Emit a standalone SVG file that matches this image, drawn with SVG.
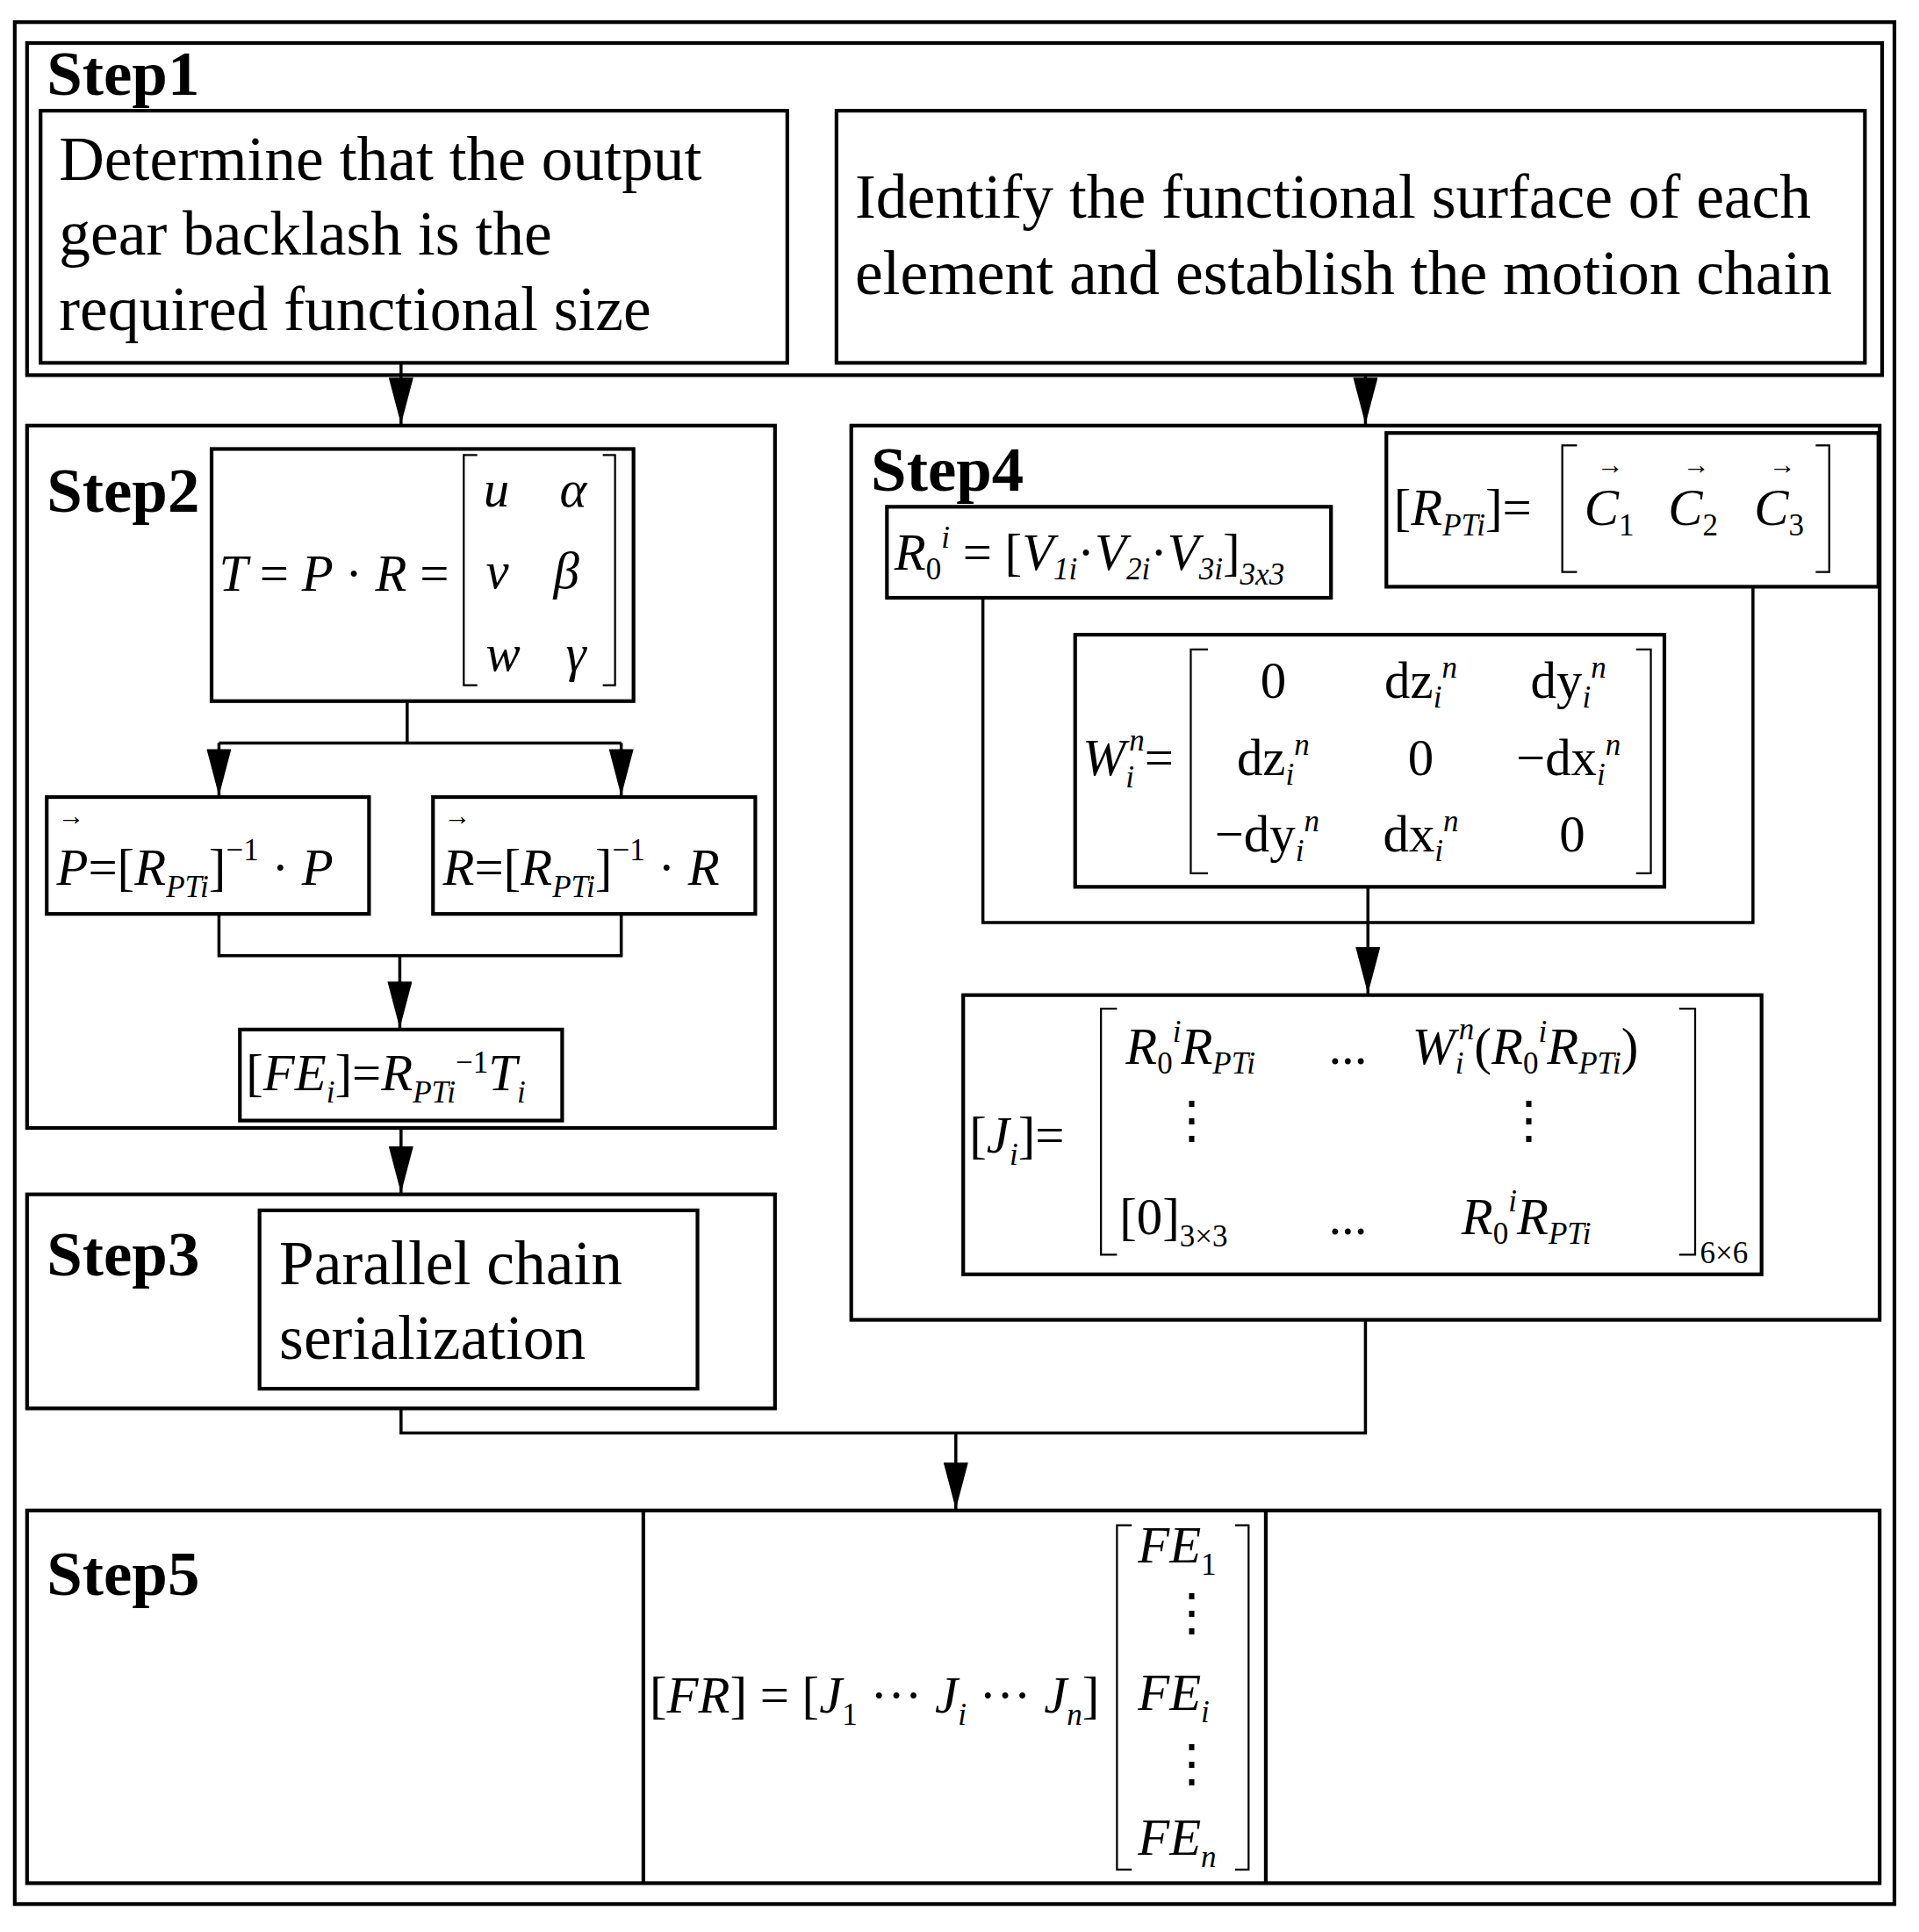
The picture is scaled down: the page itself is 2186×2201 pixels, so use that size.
<svg xmlns="http://www.w3.org/2000/svg" width="2186" height="2201" viewBox="0 0 2186 2201">
<style>
.b{fill:none;stroke:#000;stroke-width:3}
.l{fill:none;stroke:#000;stroke-width:2.5}
.k{fill:none;stroke:#000;stroke-width:1.6}
text{font-family:"Liberation Serif","Times New Roman",serif;fill:#000}
.t{font-size:51px}
.s{font-size:52px;font-weight:bold}
.m{font-size:42px;font-style:italic}
.r{font-size:42px}
.sub{font-size:25px}
</style>
<defs><marker id="a" viewBox="0 0 10 10" refX="10" refY="5" markerWidth="38" markerHeight="20" markerUnits="userSpaceOnUse" orient="auto" preserveAspectRatio="none"><path d="M0,0L10,5L0,10z" fill="#000"/></marker></defs>
<rect width="2186" height="2201" fill="#fff"/>
<g transform="scale(1.4013)">
<rect class="b" x="12" y="18" width="1528" height="1530"/>
<g id="step1"><rect class="b" x="22" y="35" width="1508" height="270"/><text class="s" x="38" y="77">Step1</text></g>
<g id="n1"><rect class="b" x="33" y="90" width="607" height="205"/><text class="t" x="48" y="146">Determine that the output</text><text class="t" x="48" y="207">gear backlash is the</text><text class="t" x="48" y="268">required functional size</text></g>
<g id="n2"><rect class="b" x="680" y="90" width="836" height="205"/><text class="t" x="695" y="177">Identify the functional surface of each</text><text class="t" x="695" y="239">element and establish the motion chain</text></g>
<g id="step2"><rect class="b" x="22" y="346" width="608" height="571"/><text class="s" x="38" y="416">Step2</text></g>
<g id="n3"><rect class="b" x="172" y="365" width="343" height="205"/>
<text class="m" x="178" y="480">T <tspan font-style="normal">=</tspan> P <tspan font-style="normal">·</tspan> R <tspan font-style="normal">=</tspan></text>
<path class="k" d="M388,370H377V557H388M490,370H500V557H490"/>
<text class="m" x="393" y="412">u</text><text class="m" x="455" y="412">α</text><text class="m" x="395" y="478">v</text><text class="m" x="450" y="478">β</text><text class="m" x="395" y="545">w</text><text class="m" x="460" y="545">γ</text></g>
<g id="n4"><rect class="b" x="38" y="648" width="262" height="95"/>
<text x="47" y="671" font-size="22">→</text>
<text class="m" x="46" y="719">P<tspan font-style="normal">=[</tspan>R<tspan class="sub" dy="10">PTi</tspan><tspan font-style="normal" dy="-10">]</tspan><tspan font-style="normal" class="sub" dy="-20">−1</tspan><tspan font-style="normal" dy="20"> · </tspan>P</text></g>
<g id="n5"><rect class="b" x="352" y="648" width="262" height="95"/>
<text x="361" y="671" font-size="22">→</text>
<text class="m" x="360" y="719">R<tspan font-style="normal">=[</tspan>R<tspan class="sub" dy="10">PTi</tspan><tspan font-style="normal" dy="-10">]</tspan><tspan font-style="normal" class="sub" dy="-20">−1</tspan><tspan font-style="normal" dy="20"> · </tspan>R</text></g>
<g id="n6"><rect class="b" x="195" y="837" width="262" height="74"/>
<text class="m" x="200" y="886"><tspan font-style="normal">[</tspan>FE<tspan class="sub" dy="10">i</tspan><tspan font-style="normal" dy="-10">]=</tspan>R<tspan class="sub" dy="10">PTi</tspan><tspan class="sub" font-style="normal" dy="-24">−1</tspan><tspan dy="14">T</tspan><tspan class="sub" dy="10">i</tspan></text></g>
<g id="step3"><rect class="b" x="22" y="971" width="608" height="174"/><text class="s" x="38" y="1037">Step3</text></g>
<g id="n7"><rect class="b" x="211" y="984" width="356" height="145"/><text class="t" x="227" y="1044">Parallel chain</text><text class="t" x="227" y="1105">serialization</text></g>
<g id="step4"><rect class="b" x="692" y="346" width="836" height="727"/><text class="s" x="708" y="399">Step4</text></g>
<g id="n8"><rect class="b" x="721" y="412" width="361" height="74"/>
<text class="m" x="727" y="463" font-size="40">R<tspan class="sub" font-style="normal" dy="8">0</tspan><tspan class="sub" dy="-26">i</tspan><tspan font-style="normal" dy="18"> = [</tspan>V<tspan class="sub" dy="8">1i</tspan><tspan font-style="normal" dy="-8">·</tspan>V<tspan class="sub" dy="8">2i</tspan><tspan font-style="normal" dy="-8">·</tspan>V<tspan class="sub" dy="8">3i</tspan><tspan font-style="normal" dy="-8">]</tspan><tspan class="sub" dy="12">3x3</tspan></text></g>
<g id="n9"><rect class="b" x="1127" y="352" width="400" height="125"/>
<text class="m" x="1133" y="427"><tspan font-style="normal">[</tspan>R<tspan class="sub" dy="8">PTi</tspan><tspan font-style="normal" dy="-8">]=</tspan></text>
<path class="k" d="M1282,362H1270V465H1282M1476,362H1487V465H1476"/>
<text x="1298" y="385" font-size="22">→</text><text x="1368" y="385" font-size="22">→</text><text x="1438" y="385" font-size="22">→</text>
<text class="m" x="1288" y="427">C<tspan class="sub" font-style="normal" dy="8">1</tspan></text><text class="m" x="1356" y="427">C<tspan class="sub" font-style="normal" dy="8">2</tspan></text><text class="m" x="1426" y="427">C<tspan class="sub" font-style="normal" dy="8">3</tspan></text></g>
<g id="n10"><rect class="b" x="874" y="516" width="479" height="205"/>
<text class="m" x="880" y="630">W<tspan class="sub" dy="10">i</tspan><tspan class="sub" dx="-4" dy="-30">n</tspan><tspan font-style="normal" dy="20">=</tspan></text>
<path class="k" d="M982,528H968V710H982M1330,528H1342V710H1330"/>
<g class="r" text-anchor="middle">
<text x="1035" y="567">0</text><text x="1155" y="567">dz<tspan class="sub" font-style="italic" dy="8">i</tspan><tspan class="sub" font-style="italic" dy="-24">n</tspan></text><text x="1275" y="567">dy<tspan class="sub" font-style="italic" dy="8">i</tspan><tspan class="sub" font-style="italic" dy="-24">n</tspan></text>
<text x="1035" y="630">dz<tspan class="sub" font-style="italic" dy="8">i</tspan><tspan class="sub" font-style="italic" dy="-24">n</tspan></text><text x="1155" y="630">0</text><text x="1275" y="630">−dx<tspan class="sub" font-style="italic" dy="8">i</tspan><tspan class="sub" font-style="italic" dy="-24">n</tspan></text>
<text x="1030" y="692">−dy<tspan class="sub" font-style="italic" dy="8">i</tspan><tspan class="sub" font-style="italic" dy="-24">n</tspan></text><text x="1155" y="692">dx<tspan class="sub" font-style="italic" dy="8">i</tspan><tspan class="sub" font-style="italic" dy="-24">n</tspan></text><text x="1278" y="692">0</text></g></g>
<g id="n11"><rect class="b" x="783" y="809" width="649" height="227"/>
<text class="m" x="788" y="937"><tspan font-style="normal">[</tspan>J<tspan class="sub" dy="10">i</tspan><tspan font-style="normal" dy="-10">]=</tspan></text>
<path class="k" d="M908,820H895V1020H908M1365,820H1378V1020H1365"/>
<text class="m" x="915" y="865">R<tspan class="sub" font-style="normal" dy="8">0</tspan><tspan class="sub" dy="-26">i</tspan><tspan dy="18">R</tspan><tspan class="sub" dy="8">PTi</tspan></text>
<text class="r" x="1080" y="865">...</text>
<text class="m" x="1148" y="865">W<tspan class="sub" dy="8">i</tspan><tspan class="sub" dx="-4" dy="-28">n</tspan><tspan font-style="normal" dy="20">(</tspan>R<tspan class="sub" font-style="normal" dy="8">0</tspan><tspan class="sub" dy="-26">i</tspan><tspan dy="18">R</tspan><tspan class="sub" dy="8">PTi</tspan><tspan font-style="normal" dy="-8">)</tspan></text>
<text class="r" x="948" y="925">⋮</text><text class="r" x="1222" y="925">⋮</text>
<text class="r" x="910" y="1003">[0]<tspan class="sub" dy="10">3×3</tspan></text>
<text class="r" x="1080" y="1003">...</text>
<text class="m" x="1188" y="1003">R<tspan class="sub" font-style="normal" dy="8">0</tspan><tspan class="sub" dy="-26">i</tspan><tspan dy="18">R</tspan><tspan class="sub" dy="8">PTi</tspan></text>
<text class="sub" x="1382" y="1027">6×6</text></g>
<g id="step5"><rect class="b" x="22" y="1228" width="1506" height="303"/><path class="b" d="M523,1228V1531M1029,1228V1531"/><text class="s" x="38" y="1297">Step5</text>
<text class="m" x="528" y="1392"><tspan font-style="normal">[</tspan>FR<tspan font-style="normal">] = [</tspan>J<tspan class="sub" font-style="normal" dy="10">1</tspan><tspan font-style="normal" dy="-10"> ··· </tspan>J<tspan class="sub" dy="10">i</tspan><tspan font-style="normal" dy="-10"> ··· </tspan>J<tspan class="sub" dy="10">n</tspan><tspan font-style="normal" dy="-10">]</tspan></text>
<path class="k" d="M920,1240H908V1520H920M1004,1240H1015V1520H1004"/>
<text class="m" x="925" y="1270">FE<tspan class="sub" font-style="normal" dy="10">1</tspan></text>
<text class="r" x="948" y="1325">⋮</text>
<text class="m" x="925" y="1390">FE<tspan class="sub" dy="10">i</tspan></text>
<text class="r" x="948" y="1448">⋮</text>
<text class="m" x="925" y="1508">FE<tspan class="sub" dy="10">n</tspan></text></g>
<g id="connectors" class="l">
<path d="M326,295V345" marker-end="url(#a)"/>
<path d="M1110,305V345" marker-end="url(#a)"/>
<path d="M331,570V604M178,604H505"/>
<path d="M178,604V647" marker-end="url(#a)"/><path d="M505,604V647" marker-end="url(#a)"/>
<path d="M178,743V777H505V743"/>
<path d="M325,777V836" marker-end="url(#a)"/>
<path d="M326,917V970" marker-end="url(#a)"/>
<path d="M799,486V750H1425V477"/>
<path d="M1112,721V808" marker-end="url(#a)"/>
<path d="M1110,1073V1165H326V1145"/>
<path d="M777,1165V1227" marker-end="url(#a)"/>
</g>
</g>
</svg>
